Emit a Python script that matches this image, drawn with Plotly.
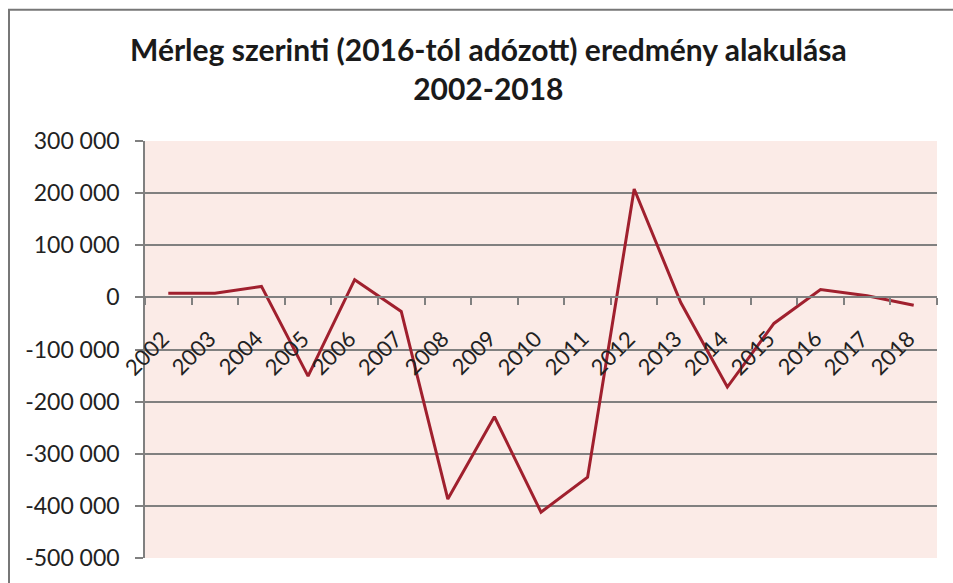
import plotly.graph_objects as go

years = [str(y) for y in range(2002, 2019)]
values = [8000, 8000, 21000, -151000, 34000, -27000, -387000, -229000,
          -412000, -345000, 208000, -10000, -172000, -50000, 15000, 3000, -15000]

y_tickvals = [300000, 200000, 100000, 0, -100000, -200000, -300000, -400000, -500000]
y_ticktext = ["300 000", "200 000", "100 000", "0", "-100 000", "-200 000",
              "-300 000", "-400 000", "-500 000"]

title_lines = ["Mérleg szerinti (2016-tól adózott) eredmény alakulása", "2002-2018"]

y_min, y_max = -500000, 300000

fig = go.Figure()
fig.add_trace(go.Scatter(
    x=years, y=values, mode="lines",
    line=dict(color="#A0202E", width=3),
    showlegend=False, hoverinfo="x+y",
))

grid_col = "#808080"
font_family = "Lato, 'Open Sans', sans-serif"
text_col = "#222222"

# category labels drawn as rotated annotations below the zero line
annotations = [
    dict(x=i, y=0, xref="x", yref="y", text=yr, showarrow=False,
         textangle=-45, xanchor="right", yanchor="top",
         xshift=9, yshift=-25,
         font=dict(family=font_family, size=22, color=text_col))
    for i, yr in enumerate(years)
]
annotations.append(dict(
    x=(488 - 145) / 792, y=(560 - 68) / 419, xref="paper", yref="paper",
    text="<br>".join("<b>" + t + "</b>" for t in title_lines),
    showarrow=False, xanchor="center", yanchor="middle",
    font=dict(family=font_family, size=30, color="#1a1a1a"),
))

fig.update_layout(
    width=953, height=583,
    margin=dict(l=145, r=16, t=141, b=23),
    paper_bgcolor="white",
    plot_bgcolor="#FBEBE7",
    font=dict(family=font_family, color=text_col),
    xaxis=dict(
        type="category",
        range=[-0.5, len(years) - 0.5],
        anchor="free",
        position=(0 - y_min) / (y_max - y_min),
        showline=True, linecolor=grid_col, linewidth=1.5,
        ticks="outside", tickson="boundaries", ticklen=7, tickcolor=grid_col, tickwidth=1.5,
        showticklabels=False,
        showgrid=False, zeroline=False,
    ),
    yaxis=dict(
        range=[y_min, y_max],
        tickvals=y_tickvals, ticktext=y_ticktext,
        showgrid=True, gridcolor=grid_col, gridwidth=1.5,
        zeroline=False,
        showline=True, linecolor=grid_col, linewidth=1.5,
        ticks="outside", ticklen=8, tickcolor=grid_col, tickwidth=1.5,
        tickfont=dict(size=23, color=text_col),
        ticklabelstandoff=11,
    ),
    annotations=annotations,
    shapes=[dict(
        type="rect", xref="paper", yref="paper",
        x0=(9 - 145) / 792, x1=(1010 - 145) / 792,
        y0=(560 - 600) / 419, y1=(560 - 9) / 419,
        line=dict(color="#777777", width=2), fillcolor="rgba(0,0,0,0)", layer="below",
    )],
)

fig.write_html("out.html", config={"displayModeBar": False},
               post_script="document.body.style.margin='0';document.body.style.overflow='hidden';")
